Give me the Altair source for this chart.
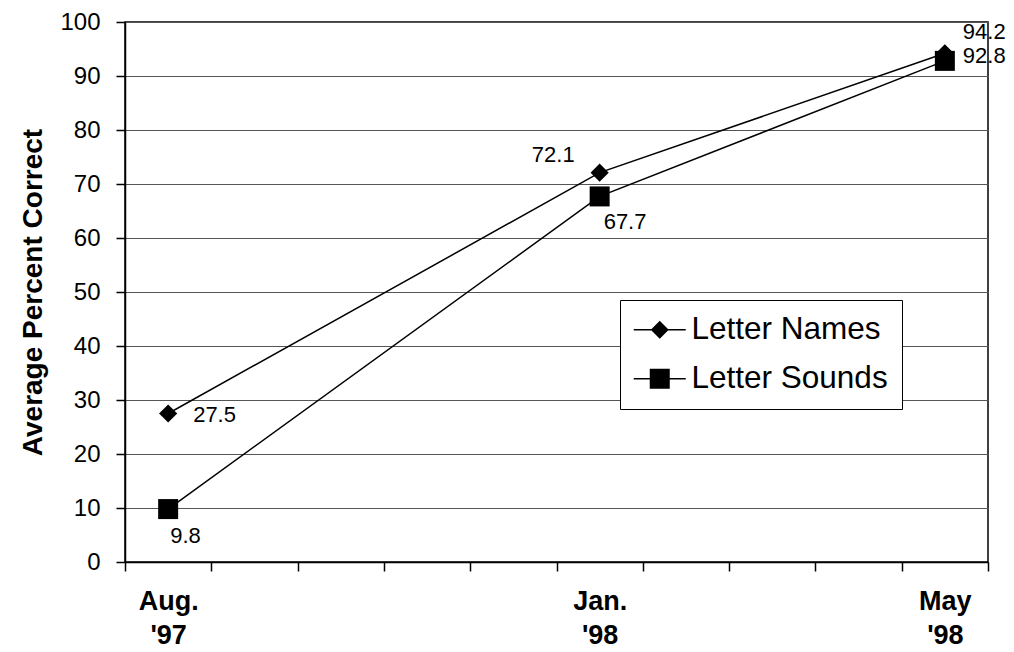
import json
import altair as alt
import pandas as pd

# Month bands on the x axis (one band per month of the school year)
months = ["Aug. '97", "Sep. '97", "Oct. '97", "Nov. '97", "Dec. '97",
          "Jan. '98", "Feb. '98", "Mar. '98", "Apr. '98", "May '98"]
test_months = ["Aug. '97", "Jan. '98", "May '98"]

series_names = ["Letter Names", "Letter Sounds"]
letter_names = [27.5, 72.1, 94.2]
letter_sounds = [9.8, 67.7, 92.8]

rows = []
for name, vals in zip(series_names, [letter_names, letter_sounds]):
    for m, v in zip(test_months, vals):
        rows.append({"month": m, "series": name, "pct": v})
df = pd.DataFrame(rows)

FONT = "Liberation Sans"
W, H = 863, 540

label_expr = ("indexof(" + json.dumps(test_months) +
              ", datum.value) >= 0 ? split(datum.value, ' ') : ''")

x_enc = alt.X(
    "month:N",
    sort=months,
    scale=alt.Scale(domain=months, paddingInner=0, paddingOuter=0),
    axis=alt.Axis(
        title=None, labelAngle=0, tickBand="extent", tickSize=9,
        tickColor="black", tickWidth=1.5, domainColor="black", domainWidth=1.5,
        labelExpr=label_expr, labelFont=FONT, labelFontSize=27,
        labelFontWeight="bold", labelColor="black", labelLineHeight=34,
        labelPadding=17, labelOverlap=False, labelBound=False, grid=False,
    ),
)
y_enc = alt.Y(
    "pct:Q",
    scale=alt.Scale(domain=[0, 100], nice=False),
    axis=alt.Axis(
        title="Average Percent Correct", values=list(range(0, 101, 10)),
        tickSize=9, tickColor="black", tickWidth=1.5, domainColor="black",
        domainWidth=1.5, labelFont=FONT, labelFontSize=24, labelColor="black",
        labelPadding=16, titleFont=FONT, titleFontSize=28,
        titleFontWeight="bold", titleColor="black", titlePadding=12,
        grid=True, gridColor="#555555", gridWidth=1,
    ),
)

base = alt.Chart(df).encode(x=x_enc, y=y_enc)

lines = base.mark_line(color="black", strokeWidth=1.5).encode(
    detail="series:N"
)

points = base.mark_point(filled=True, opacity=1, color="black").encode(
    shape=alt.Shape("series:N",
                    scale=alt.Scale(domain=series_names, range=["diamond", "square"]),
                    legend=None),
    size=alt.Size("series:N",
                  scale=alt.Scale(domain=series_names, range=[330, 400]),
                  legend=None),
)

# Legend glyphs: marker with a short line through it (line drawn as a thin bar)
legend_paths = [
    "M-2.6,-0.07H2.6V0.07H-2.6ZM0,-0.9L0.9,0L0,0.9L-0.9,0Z",
    "M-2.6,-0.07H2.6V0.07H-2.6ZM-1,-1H1V1H-1Z",
]
legend_layer = base.mark_point(filled=True, opacity=0, size=400, color="black").encode(
    shape=alt.Shape(
        "series:N",
        scale=alt.Scale(domain=series_names, range=legend_paths),
        legend=alt.Legend(
            title=None, orient="none", legendX=495, legendY=278,
            padding=14, rowPadding=16, symbolOffset=10, labelOffset=16,
            symbolSize=400, symbolOpacity=1, symbolFillColor="black",
            symbolStrokeWidth=0, labelLimit=400,
            labelFont=FONT, labelFontSize=31.5, labelColor="black",
            strokeColor="black", fillColor="white", cornerRadius=0,
        ),
    )
)


def value_label(series, month, align, dx, dy):
    return base.mark_text(
        align=align, baseline="alphabetic", dx=dx, dy=dy,
        font=FONT, fontSize=22, color="black",
    ).encode(text=alt.Text("pct:Q", format=".1f")).transform_filter(
        (alt.datum.series == series) & (alt.datum.month == month)
    )


labels = [
    value_label("Letter Names", "Aug. '97", "left", 25, 8),
    value_label("Letter Sounds", "Aug. '97", "left", 2, 34),
    value_label("Letter Names", "Jan. '98", "right", -25, -11),
    value_label("Letter Sounds", "Jan. '98", "left", 4, 33),
    value_label("Letter Names", "May '98", "left", 18, -14),
    value_label("Letter Sounds", "May '98", "left", 18, 2),
]

chart = alt.layer(lines, points, legend_layer, *labels).resolve_scale(
    shape="independent", size="independent"
).properties(
    width=W, height=H,
    autosize=alt.AutoSizeParams(type="none"),
    padding={"left": 125, "top": 22, "right": 26, "bottom": 90},
    background="white",
).configure_view(stroke="black", strokeWidth=1.5)

chart.save("out.html", embed_options={"renderer": "svg", "actions": False})
